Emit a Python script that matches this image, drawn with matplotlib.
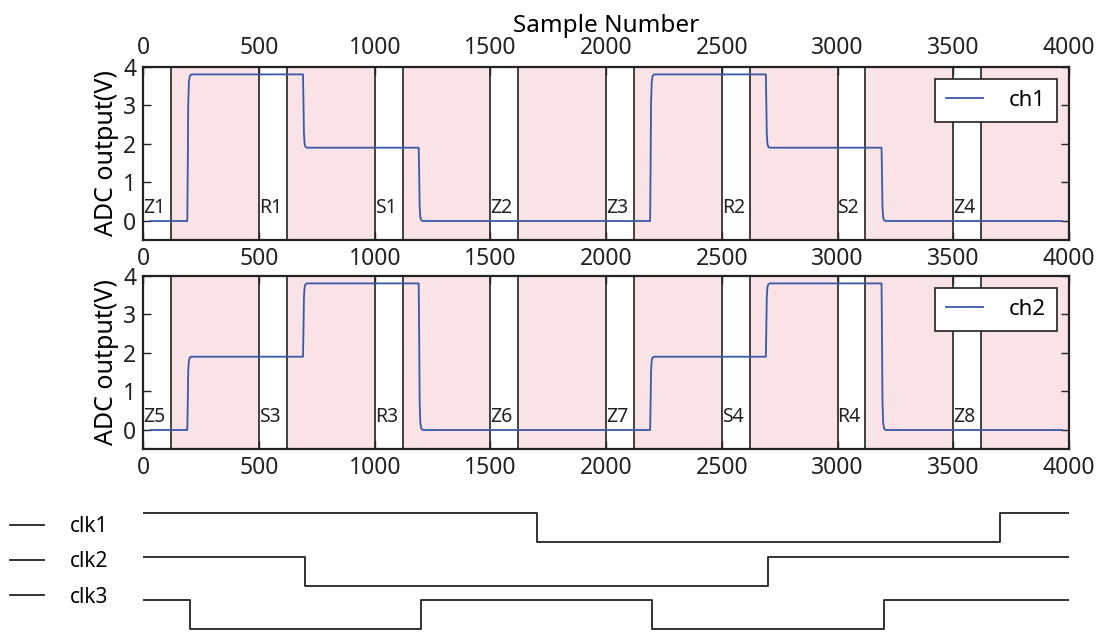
import numpy as np
import matplotlib
matplotlib.use("Agg")
import matplotlib.pyplot as plt

plt.rcParams['font.family'] = ['Noto Sans', 'DejaVu Sans']

# ── data ─────────────────────────────────────────────────────────────────
# window starts (white gaps) and their width, in samples
win_start = [0, 500, 1000, 1500, 2000, 2500, 3000, 3500]
win_width = 120
ch1_names = ['Z1', 'R1', 'S1', 'Z2', 'Z3', 'R2', 'S2', 'Z4']
ch2_names = ['Z5', 'S3', 'R3', 'Z6', 'Z7', 'S4', 'R4', 'Z8']

# ADC signals: edge positions and the level reached after each edge
sig_start, sig_end = 30, 3970
edges = [190, 690, 1190, 2190, 2690, 3190]
ch1_levels = [0.0, 3.8, 1.9, 0.0, 3.8, 1.9, 0.0]
ch2_levels = [0.0, 1.9, 3.8, 0.0, 1.9, 3.8, 0.0]
# settling shape of one edge (offset in samples, fraction of the step)
edge_dx = [0, 2, 4, 7, 11, 18]
edge_frac = [0.0, 0.35, 0.8, 0.95, 0.99, 1.0]

# clocks: transition samples and levels (steps-post)
clk1_t = [0, 1700, 3700, 4000]
clk1_v = [1, 0, 1, 1]
clk2_t = [0, 700, 2700, 4000]
clk2_v = [1, 0, 1, 1]
clk3_t = [0, 200, 1200, 2200, 3200, 4000]
clk3_v = [1, 0, 1, 0, 1, 1]
clk_offsets = [3.0, 1.5, 0.0]


def build_signal(levels):
    xs, ys = [sig_start], [levels[0]]
    for e, a, b in zip(edges, levels[:-1], levels[1:]):
        for dx, f in zip(edge_dx, edge_frac):
            xs.append(e + dx)
            ys.append(a + (b - a) * f)
    xs.append(sig_end)
    ys.append(levels[-1])
    return xs, ys


fig = plt.figure(figsize=(11.05, 6.32), dpi=100)
L, W = 0.1297, 0.8377
ax1 = fig.add_axes([L, 0.6198, W, 0.2747])
ax2 = fig.add_axes([L, 0.2891, W, 0.2747])
ax3 = fig.add_axes([L, 0.0, W, 0.20])

pink = '#fae3e6'
blue = '#3b58a8'
dark = '#222222'

for ax, names, levels, lab in [(ax1, ch1_names, ch1_levels, 'ch1'),
                               (ax2, ch2_names, ch2_levels, 'ch2')]:
    for s, name in zip(win_start, names):
        ax.axvspan(s + win_width, s + 500, color=pink, lw=0, zorder=0)
        if s > 0:
            ax.axvline(s, color=dark, lw=1.2, zorder=1)
        ax.axvline(s + win_width, color=dark, lw=1.2, zorder=1)
        ax.text(s, 0.2, name, fontsize=14, ha='left', va='baseline',
                color=dark, zorder=3)
    xs, ys = build_signal(levels)
    ax.plot(xs, ys, color=blue, lw=1.3, label=lab, zorder=2)
    ax.set_xlim(0, 4000)
    ax.set_ylim(-0.5, 4)
    ax.set_xticks(range(0, 4001, 500))
    ax.set_yticks(range(0, 5))
    ax.set_ylabel('ADC output(V)', fontsize=18, labelpad=3)
    ax.tick_params(direction='in', length=6, width=1, labelsize=16.5,
                   top=True, right=True, pad=5, colors=dark)
    for sp in ax.spines.values():
        sp.set_linewidth(1.6)
        sp.set_color(dark)
    leg = ax.legend(loc='upper right', fontsize=16, fancybox=False,
                    framealpha=1, edgecolor=dark, handlelength=1.65,
                    handletextpad=1.15, borderaxespad=0.55, borderpad=0.5)
    leg.get_frame().set_linewidth(1.2)

ax1.tick_params(labeltop=True)
ax1.xaxis.set_label_position('top')
ax1.set_xlabel('Sample Number', fontsize=17.5, labelpad=3)

# ── clocks ────────────────────────────────────────────────────────────────
for t, v, off, lab in [(clk1_t, clk1_v, clk_offsets[0], 'clk1'),
                       (clk2_t, clk2_v, clk_offsets[1], 'clk2'),
                       (clk3_t, clk3_v, clk_offsets[2], 'clk3')]:
    ax3.plot(t, np.array(v) + off, drawstyle='steps-post',
             color=dark, lw=1.3, label=lab)
ax3.set_xlim(0, 4000)
ax3.set_ylim(-0.104, 4.27)
ax3.axis('off')
fig.legend(*ax3.get_legend_handles_labels(), loc='center left',
           bbox_to_anchor=(0.009, 0.1108), bbox_transform=fig.transFigure,
           frameon=False, fontsize=15, handlelength=1.63,
           handletextpad=1.25, labelspacing=0.68, borderaxespad=0,
           borderpad=0)

fig.savefig('out.png', dpi=100)
